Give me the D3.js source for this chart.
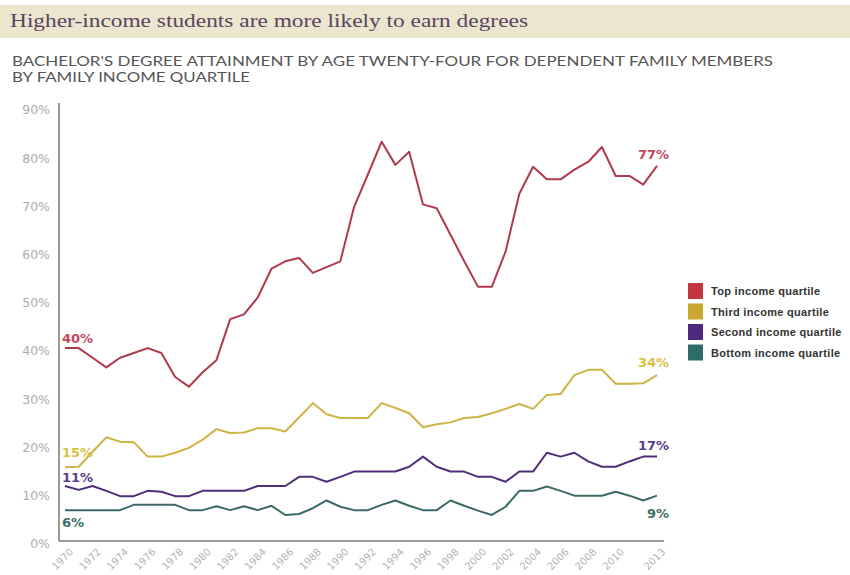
<!DOCTYPE html>
<html><head><meta charset="utf-8">
<script src="https://cdn.jsdelivr.net/npm/d3@7"></script>
<style>html,body{margin:0;padding:0;background:#fff;}svg{display:block;}</style>
</head><body>
<script>
const years = d3.range(1970, 2014);
const topQ    = [40,40,38,36,38,39,40,39,34,32, 35,37.5,46,47,50.5,56.5,58,58.7,55.6,56.8, 58,69.3,76,82.8,78,80.7,69.8,69,63.5,58, 52.7,52.7,60,72,77.6,75,75,77,78.6,81.7, 75.7,75.7,73.9,77.8];
const thirdQ  = [15.3,15.4,18.5,21.5,20.6,20.5,17.5,17.5,18.3,19.3, 21,23.2,22.4,22.5,23.4,23.4,22.7,25.6,28.6,26.3, 25.5,25.5,25.5,28.6,27.6,26.5,23.6,24.2,24.6,25.5, 25.7,26.5,27.4,28.4,27.4,30.3,30.5,34.4,35.5,35.5, 32.6,32.6,32.7,34.4];
const secondQ = [11.4,10.6,11.4,10.4,9.3,9.3,10.4,10.2,9.3,9.3, 10.4,10.4,10.4,10.4,11.4,11.4,11.4,13.3,13.3,12.3, 13.3,14.4,14.4,14.4,14.4,15.4,17.5,15.4,14.4,14.4, 13.3,13.3,12.3,14.4,14.4,18.3,17.5,18.3,16.5,15.4, 15.4,16.5,17.5,17.5];
const bottomQ = [6.4,6.4,6.4,6.4,6.4,7.5,7.5,7.5,7.5,6.4, 6.4,7.2,6.4,7.2,6.4,7.3,5.4,5.6,6.8,8.4, 7.1,6.4,6.4,7.5,8.4,7.3,6.4,6.4,8.4,7.3, 6.3,5.4,7.1,10.4,10.4,11.3,10.4,9.4,9.4,9.4, 10.2,9.4,8.4,9.4];
const seriesNames = ["Top income quartile","Third income quartile","Second income quartile","Bottom income quartile"];
const lineColors = ["#b03a4c","#cdb445","#4e2f78","#3b6b67"];
const legendColors = ["#c1363f","#c9a830","#4b2a7e","#2e6b69"];
const labelColors = ["#c4475a","#dcbf45","#5a3c8a","#3e6d69"];
const xTickYears = [1970,1972,1974,1976,1978,1980,1982,1984,1986,1988,1990,1992,1994,1996,1998,2000,2002,2004,2006,2008,2010,2013];
const yTicks = [0,10,20,30,40,50,60,70,80,90];
const title = "Higher-income students are more likely to earn degrees";
const subtitle1 = "BACHELOR'S DEGREE ATTAINMENT BY AGE TWENTY-FOUR FOR DEPENDENT FAMILY MEMBERS";
const subtitle2 = "BY FAMILY INCOME QUARTILE";

const allSeries = [topQ, thirdQ, secondQ, bottomQ];
const W = 850, H = 575;
const svg = d3.select("body").append("svg").attr("width", W).attr("height", H);

// title band
svg.append("rect").attr("x",0).attr("y",5).attr("width",W).attr("height",33).attr("fill","#ece6cf");
svg.append("text").attr("x",10).attr("y",27).text(title)
  .attr("font-family","'Liberation Serif', 'DejaVu Serif', serif").attr("font-size",18)
  .attr("fill","#5b4460").attr("textLength",518).attr("lengthAdjust","spacingAndGlyphs");
svg.append("text").attr("x",12).attr("y",66).text(subtitle1)
  .attr("font-family","Lato, 'DejaVu Sans', sans-serif").attr("font-size",12.5)
  .attr("fill","#555").attr("textLength",761).attr("lengthAdjust","spacingAndGlyphs");
svg.append("text").attr("x",12).attr("y",82).text(subtitle2)
  .attr("font-family","Lato, 'DejaVu Sans', sans-serif").attr("font-size",12.5)
  .attr("fill","#555").attr("textLength",238).attr("lengthAdjust","spacingAndGlyphs");

const x = d3.scaleLinear().domain([1970, 2013]).range([65, 657]);
const y = d3.scaleLinear().domain([0, 90]).range([541, 107]);

// axes
const yAxis = svg.append("g").attr("transform","translate(50,0)")
  .call(d3.axisLeft(y).tickValues(yTicks).tickSize(0).tickFormat(d => d + "%"));
yAxis.select(".domain").remove();
yAxis.selectAll("text").attr("font-family","'DejaVu Sans', sans-serif").attr("font-size",12.5)
  .attr("fill","#ababab").attr("dy","0.55em").attr("x",0);

const xAxis = svg.append("g").attr("transform","translate(0,541)")
  .call(d3.axisBottom(x).tickValues(xTickYears).tickSize(0).tickFormat(d3.format("d")));
xAxis.select(".domain").remove();
xAxis.selectAll("text").attr("font-family","'DejaVu Sans', sans-serif").attr("font-size",10)
  .attr("fill","#b3b3b3").attr("text-anchor","end")
  .attr("transform","translate(6,9) rotate(-45)").attr("x",0).attr("y",0).attr("dy","0.35em");

svg.append("line").attr("x1",59).attr("x2",59).attr("y1",103).attr("y2",541).attr("stroke","#777").attr("stroke-width",1.5);
svg.append("line").attr("x1",59).attr("x2",664).attr("y1",541).attr("y2",541).attr("stroke","#777").attr("stroke-width",1.5);

// lines
const line = d3.line().x((d,i) => x(years[i])).y(d => y(d));
allSeries.forEach((s, k) => {
  svg.append("path").datum(s).attr("d", line).attr("fill","none")
    .attr("stroke", lineColors[k]).attr("stroke-width",2).attr("stroke-linejoin","round");
});

// end labels
const lblFont = "'DejaVu Sans', sans-serif";
const startOff = [-5, -10, -4, 17];
const endOff = [-7, -8, -7, 22];
allSeries.forEach((s, k) => {
  svg.append("text").attr("x", x(1970) - 3).attr("y", y(s[0]) + startOff[k])
    .text(Math.round(s[0]) + "%").attr("font-family", lblFont).attr("font-weight","bold")
    .attr("font-size",13).attr("fill", labelColors[k]);
  svg.append("text").attr("x", x(2013) + 12).attr("y", y(s[s.length-1]) + endOff[k])
    .attr("text-anchor","end")
    .text(Math.floor(s[s.length-1]) + "%").attr("font-family", lblFont).attr("font-weight","bold")
    .attr("font-size",13).attr("fill", labelColors[k]);
});

// legend
const lg = svg.append("g").attr("transform","translate(688,283)");
seriesNames.forEach((n, k) => {
  const g = lg.append("g").attr("transform", `translate(0,${k*20.5})`);
  g.append("rect").attr("width",15).attr("height",16).attr("fill", legendColors[k]);
  g.append("text").attr("x",23).attr("y",12).text(n)
    .attr("font-family","'Liberation Sans', Arial, sans-serif").attr("font-weight","bold")
    .attr("font-size",11).attr("letter-spacing",0.3).attr("fill","#333");
});
</script>
</body></html>
